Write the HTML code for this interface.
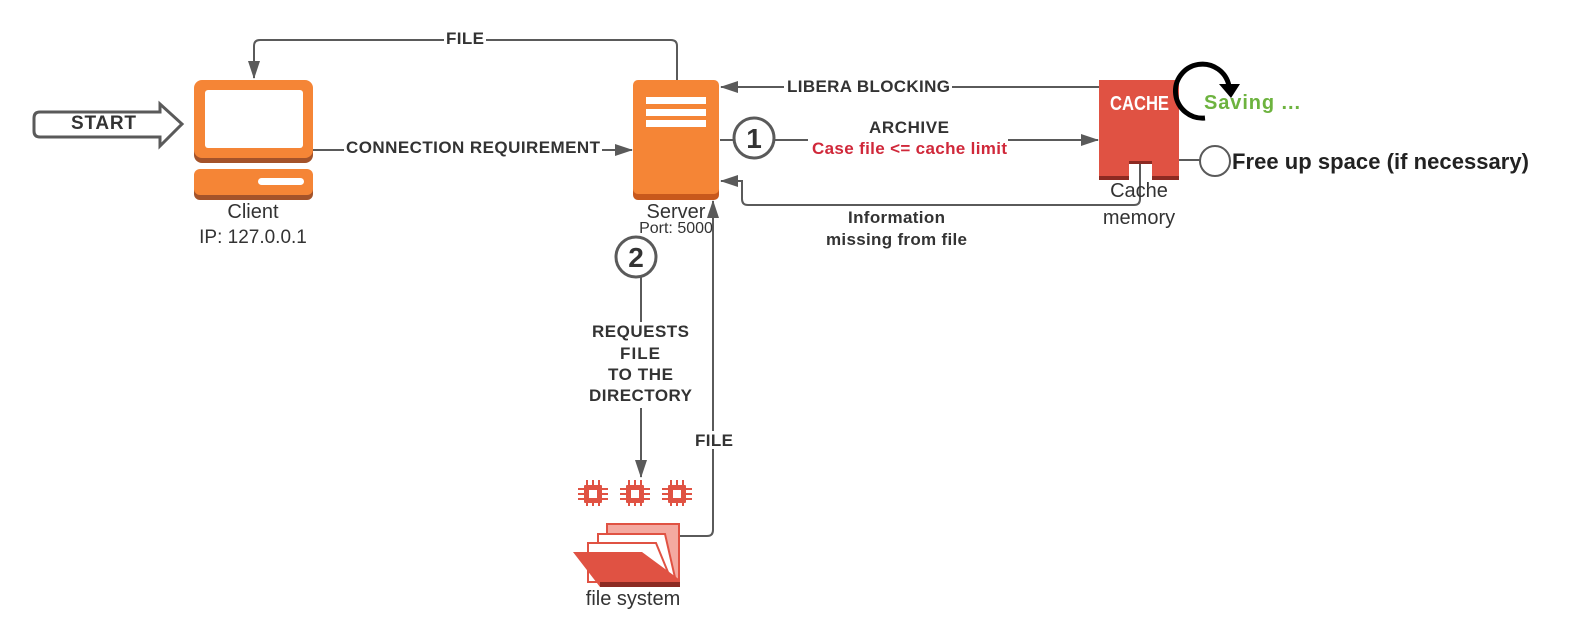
<!DOCTYPE html>
<html><head><meta charset="utf-8"><style>
body{margin:0;background:#fff}
svg{display:block}
text{font-family:"Liberation Sans",sans-serif}
.b{font-weight:bold;font-size:17px;fill:#333}
.n{font-size:20px;fill:#333}
</style></head><body>
<svg width="1571" height="635" viewBox="0 0 1571 635">
<defs>
<marker id="ah" viewBox="0 0 18 12" markerWidth="18" markerHeight="12" refX="17" refY="6" orient="auto" markerUnits="userSpaceOnUse"><path d="M0,0 L18,6 L0,12z" fill="#5a5a5a"/></marker>
</defs>
<g stroke="#5a5a5a" stroke-width="2" fill="none">
<path d="M40,112 H160 V104 L182,124 L160,146 V137 H40 Q34,137 34,131 V118 Q34,112 40,112Z" stroke-width="3"/>
<path d="M677,80 V46 Q677,40 671,40 H260 Q254,40 254,46 V78" marker-end="url(#ah)"/>
<path d="M313,150 H632" marker-end="url(#ah)"/>
<path d="M1099,87 H721" marker-end="url(#ah)"/>
<path d="M720,140 H734 M774,140 H1098" marker-end="url(#ah)"/>
<path d="M1140,163 V199 Q1140,205 1134,205 H748 Q742,205 742,199 V181 H721" marker-end="url(#ah)"/>
<path d="M641,277 V322 M641,408 V477" marker-end="url(#ah)"/>
<path d="M680,536 H707 Q713,536 713,530 V201" marker-end="url(#ah)"/>
<path d="M1179,160 H1200"/>
</g>
<rect x="444" y="30" width="42" height="18" fill="#fff"/>
<text x="446" y="44" class="b" textLength="38">FILE</text>
<rect x="344" y="140" width="258" height="18" fill="#fff"/>
<text x="346" y="153" class="b" textLength="254">CONNECTION REQUIREMENT</text>
<rect x="784" y="78" width="168" height="18" fill="#fff"/>
<text x="787" y="92" class="b" textLength="163">LIBERA BLOCKING</text>
<rect x="808" y="130" width="200" height="28" fill="#fff"/>
<text x="869" y="133" class="b" textLength="80">ARCHIVE</text>
<text x="812" y="154" class="b" style="fill:#d0283a" textLength="195">Case file &lt;= cache limit</text>
<text x="848" y="223" class="b" textLength="97">Information</text>
<text x="826" y="245" class="b" textLength="141">missing from file</text>
<text x="592" y="337" class="b" textLength="97">REQUESTS</text>
<text x="620" y="359" class="b" textLength="40">FILE</text>
<text x="608" y="380" class="b" textLength="65">TO THE</text>
<text x="589" y="401" class="b" textLength="103">DIRECTORY</text>
<rect x="693" y="431" width="42" height="18" fill="#fff"/>
<text x="695" y="446" class="b" textLength="38">FILE</text>
<text x="71" y="129" class="b" style="font-size:19px" textLength="65">START</text>
<rect x="194" y="83" width="119" height="80" rx="8" fill="#a4532a"/>
<rect x="194" y="80" width="119" height="78" rx="8" fill="#f58536"/>
<rect x="205" y="90" width="98" height="58" rx="3" fill="#fff"/>
<rect x="194" y="172" width="119" height="28" rx="6" fill="#a4532a"/>
<rect x="194" y="169" width="119" height="26" rx="6" fill="#f58536"/>
<rect x="258" y="178" width="46" height="7" rx="3.5" fill="#fff"/>
<text x="253" y="218" class="n" text-anchor="middle">Client</text>
<text x="253" y="243" class="n" text-anchor="middle" style="font-size:19px">IP: 127.0.0.1</text>
<rect x="633" y="83" width="86" height="117" rx="5" fill="#c8581c"/>
<rect x="633" y="80" width="86" height="114" rx="5" fill="#f58536"/>
<rect x="646" y="97" width="60" height="7" fill="#fff"/>
<rect x="646" y="109" width="60" height="7" fill="#fff"/>
<rect x="646" y="120" width="60" height="7" fill="#fff"/>
<text x="676" y="218" class="n" text-anchor="middle">Server</text>
<text x="676" y="233" text-anchor="middle" style="font-size:16px;fill:#333">Port: 5000</text>
<circle cx="754" cy="138" r="20" fill="#fff" stroke="#5a5a5a" stroke-width="3"/>
<text x="754" y="148" text-anchor="middle" style="font-size:28px;font-weight:bold;fill:#333">1</text>
<circle cx="636" cy="257" r="20" fill="#fff" stroke="#5a5a5a" stroke-width="3"/>
<text x="636" y="267" text-anchor="middle" style="font-size:28px;font-weight:bold;fill:#333">2</text>
<path d="M1099,80 H1179 V180 H1152 V161 H1129 V180 H1099Z" fill="#e05243"/>
<rect x="1099" y="176" width="30" height="4" fill="#8c2a22"/>
<rect x="1152" y="176" width="27" height="4" fill="#8c2a22"/>
<rect x="1129" y="161" width="23" height="3" fill="#8c2a22"/>
<text x="1110" y="110" style="font-size:20px;font-weight:bold;fill:#fff" textLength="59" lengthAdjust="spacingAndGlyphs">CACHE</text>
<text x="1139" y="197" class="n" text-anchor="middle">Cache</text>
<text x="1139" y="224" class="n" text-anchor="middle">memory</text>
<path d="M1205,118 A27,27 0 1 1 1229,86" fill="none" stroke="#000" stroke-width="5"/>
<path d="M1219,84 L1240,84 L1231,98Z" fill="#000"/>
<text x="1204" y="109" style="font-size:20px;font-weight:bold;fill:#6db33f" textLength="96">Saving ...</text>
<circle cx="1215" cy="161" r="15" fill="#fff" stroke="#5a5a5a" stroke-width="2"/>
<text x="1232" y="169" style="font-size:22px;font-weight:bold;fill:#222" textLength="297">Free up space (if necessary)</text>
<g fill="#e05243">
<g id="c"><rect x="584" y="485" width="18" height="18" rx="1"/>
<rect x="586" y="480" width="2" height="26"/><rect x="592" y="480" width="2" height="26"/><rect x="598" y="480" width="2" height="26"/>
<rect x="578" y="488" width="30" height="2"/><rect x="578" y="493" width="30" height="2"/><rect x="578" y="498" width="30" height="2"/>
<rect x="589" y="490" width="8" height="8" fill="#fff"/></g>
<use href="#c" x="42"/><use href="#c" x="84"/>
</g>
<path d="M607,524 H679 V585 H607Z" fill="#f4a9a0" stroke="#e05243" stroke-width="2"/>
<path d="M598,534 H665 L676,582 H598Z" fill="#fff" stroke="#e05243" stroke-width="2"/>
<path d="M588,543 H656 L672,582 H588Z" fill="#fff" stroke="#e05243" stroke-width="2"/>
<path d="M573,552 H642 L680,580 V587 H600Z" fill="#e05243"/>
<path d="M600,582 H680 V587 H600Z" fill="#8c2a22"/>
<text x="633" y="605" class="n" text-anchor="middle">file system</text>
</svg>
</body></html>
